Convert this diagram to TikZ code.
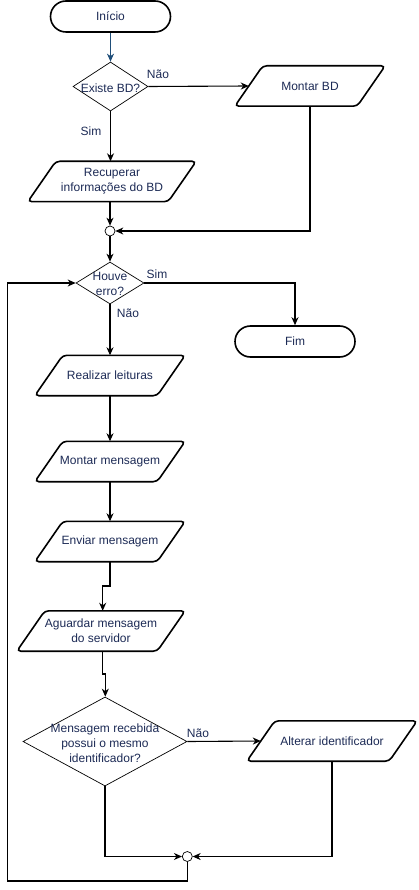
\documentclass[tikz,border=0pt]{standalone}
\usepackage{fontspec}
\setmainfont{Liberation Sans}
\usetikzlibrary{shapes.geometric,shapes.misc,arrows.meta}
\definecolor{txt}{HTML}{1C2A55}
\definecolor{navyline}{HTML}{1F4E79}
\newcommand\drawpara[1]{\draw[draw=black, line width=1.6pt, rounded corners=4pt]
  ([xshift=14pt]#1.north west) -- ([xshift=14pt]#1.north east) --
  ([xshift=-14pt]#1.south east) -- ([xshift=-14pt]#1.south west) -- cycle;}
\begin{document}
\begin{tikzpicture}[x=1pt,y=-1pt,
  font=\fontsize{12pt}{15pt}\selectfont,
  every node/.style={text=txt},
  term/.style={rounded rectangle, draw=black, line width=1.6pt, minimum width=120pt, minimum height=31pt, inner sep=0pt},
  io/.style={rectangle, minimum height=40pt, inner sep=0pt, align=center},
  dec/.style={diamond, draw=black, line width=0.7pt, inner sep=0pt},
  junc/.style={circle, draw=black, line width=0.7pt, fill=white, minimum size=10pt, inner sep=0pt},
  lbl/.style={inner sep=0pt, align=center},
  conn/.style={draw=black, line width=1.1pt, -{Stealth[length=8pt,width=7pt,inset=2.5pt]}},
  plain/.style={draw=black, line width=1.1pt}
]
\useasboundingbox (0,0) rectangle (419,890);

% nodes
\node[term] (inicio) at (110.5,16.5) {Início};
\node[dec, minimum width=75pt, minimum height=49pt] (d1) at (110.5,86.5) {};
\node[lbl] (d1t) at (110.5,88) {Existe BD?};
\node[io, minimum width=122pt] (mbd) at (310,86) {Montar BD};
\node[io, minimum width=140pt] (rec) at (112,181.5) {Recuperar\\informações do BD};
\node[junc] (c1) at (110,231) {};
\node[dec, minimum width=68pt, minimum height=42pt] (d2) at (110,283) {};
\node[lbl] (d2t) at (110,284) {Houve\\erro?};
\node[term] (fim) at (295,341.5) {Fim};
\node[io, minimum width=122pt] (rl) at (110,375.5) {Realizar leituras};
\node[io, minimum width=122pt] (mm) at (110,461.5) {Montar mensagem};
\node[io, minimum width=122pt] (em) at (110,541.5) {Enviar mensagem};
\node[io, minimum width=140pt] (ag) at (101,631) {Aguardar mensagem\\do servidor};
\node[dec, minimum width=164pt, minimum height=89pt] (d3) at (105,741.5) {};
\node[lbl] (d3t) at (105,743) {Mensagem recebida\\possui o mesmo\\identificador?};
\node[io, minimum width=142pt] (alt) at (332,741) {Alterar identificador};
\node[junc] (c2) at (187.3,856.5) {};

\drawpara{mbd}
\drawpara{rec}
\drawpara{rl}
\drawpara{mm}
\drawpara{em}
\drawpara{ag}
\drawpara{alt}

% edge labels
\node[lbl] (l1) at (158,74) {Não};
\node[lbl] (l2) at (91,131) {Sim};
\node[lbl] (l3) at (157,274) {Sim};
\node[lbl] (l4) at (128,313) {Não};
\node[lbl] (l5) at (198,733) {Não};

% bend coordinates
\coordinate (b1) at (102.7,586);
\coordinate (b2) at (105.3,674);
\coordinate (lp) at (7.3,881);

% connectors
\draw[conn, draw=navyline] (inicio.south) -- (d1.north);
\draw[conn] (d1.east) -- (mbd.west);
\draw[conn] (mbd.south) |- (c1.east);
\draw[conn] (d1.south) -- (d1.south |- rec.north);
\draw[conn] (rec.south -| c1) -- (c1.north);
\draw[conn] (c1.south) -- (d2.north);
\draw[conn] (d2.east) -| (fim.north);
\draw[conn] (d2.south) -- (rl.north -| d2.south);
\draw[conn] (rl.south) -- (mm.north);
\draw[conn] (mm.south) -- (em.north);
\draw[conn] (em.south) |- (b1) -- (b1 |- ag.north);
\draw[conn] (b1 |- ag.south) |- (b2) -- (b2 |- d3.north);
\draw[conn] (d3.east) -- (alt.west);
\draw[conn] (alt.south) |- (c2.east);
\draw[conn] (d3.south) |- (c2.west);
\draw[conn] (c2.south) |- (lp) |- (d2.west);
\end{tikzpicture}
\end{document}
